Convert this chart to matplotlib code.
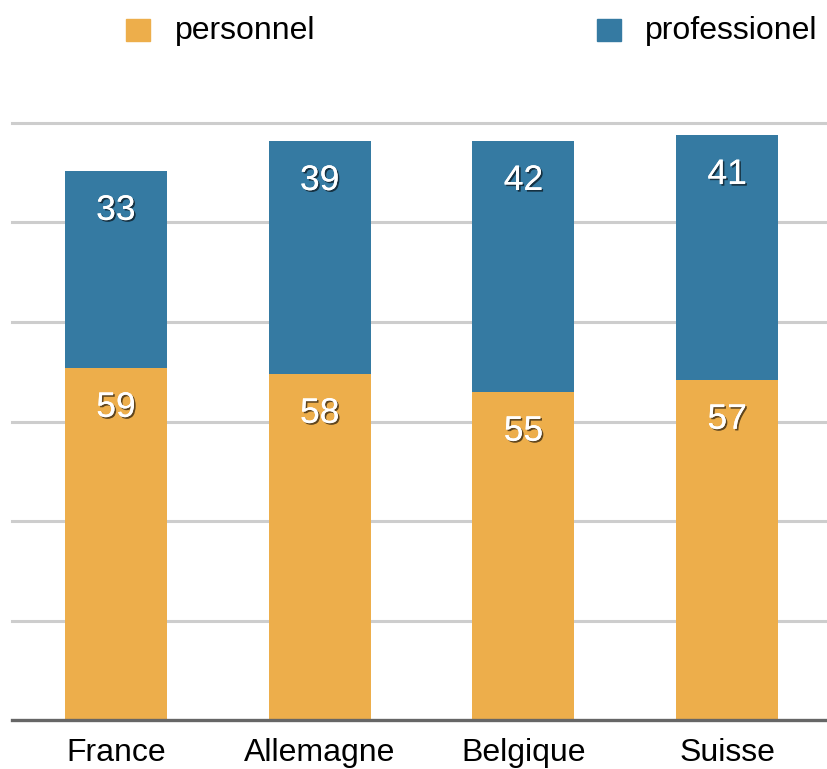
import matplotlib
matplotlib.use('Agg')
import matplotlib.pyplot as plt
import matplotlib.patheffects as pe
from matplotlib.patches import Rectangle
import numpy as np

pays = ['France', 'Allemagne', 'Belgique', 'Suisse']
personnel = [59, 58, 55, 57]
professionel = [33, 39, 42, 41]

orange = '#EDAE4B'
bleu = '#357AA2'

plt.rcParams['font.family'] = ['Liberation Sans', 'DejaVu Sans']

fig = plt.figure(figsize=(8.27, 7.69), dpi=100)
ax = fig.add_axes([12 / 827, 1 - 720 / 769, 1 - 12 / 827, (720 - 123) / 769])

x = np.arange(len(pays))
ax.bar(x, personnel, width=0.5, color=orange, zorder=3)
ax.bar(x, professionel, width=0.5, bottom=personnel, color=bleu, zorder=3)

ax.set_xlim(-0.51, 3.49)
ax.set_ylim(0, 100)
grille = np.linspace(0, 100, 7)[1:]
for g in grille:
    ax.axhline(g, color='#CDCDCD', lw=2.2, zorder=1, clip_on=False)
ax.axhline(0, color='#666666', lw=2.4, zorder=4, clip_on=False)

ombre = [pe.withSimplePatchShadow(offset=(1.2, -1.2), shadow_rgbFace='black', alpha=0.6), pe.Normal()]
for i in range(len(pays)):
    haut_p = personnel[i]
    haut_t = personnel[i] + professionel[i]
    ax.annotate(str(personnel[i]), (x[i], haut_p), xytext=(0, -28.5), textcoords='offset points',
                ha='center', va='center', color='white', fontsize=25.5, zorder=5, path_effects=ombre)
    ax.annotate(str(professionel[i]), (x[i], haut_t), xytext=(0, -28.5), textcoords='offset points',
                ha='center', va='center', color='white', fontsize=25.5, zorder=5, path_effects=ombre)

ax.set_xticks(x)
ax.set_xticklabels(pays, fontsize=23)
ax.tick_params(axis='x', length=0, pad=13)
ax.set_yticks([])
for s in ax.spines.values():
    s.set_visible(False)

# légende
fig.add_artist(Rectangle((126 / 827, 1 - 41 / 769), 24 / 827, 22 / 769, transform=fig.transFigure, color=orange))
fig.text(175 / 827, 1 - 31 / 769, 'personnel', fontsize=23, va='center', ha='left')
fig.add_artist(Rectangle((597 / 827, 1 - 41 / 769), 24 / 827, 22 / 769, transform=fig.transFigure, color=bleu))
fig.text(645 / 827, 1 - 31 / 769, 'professionel', fontsize=23, va='center', ha='left')

fig.savefig('out.png', dpi=100)
